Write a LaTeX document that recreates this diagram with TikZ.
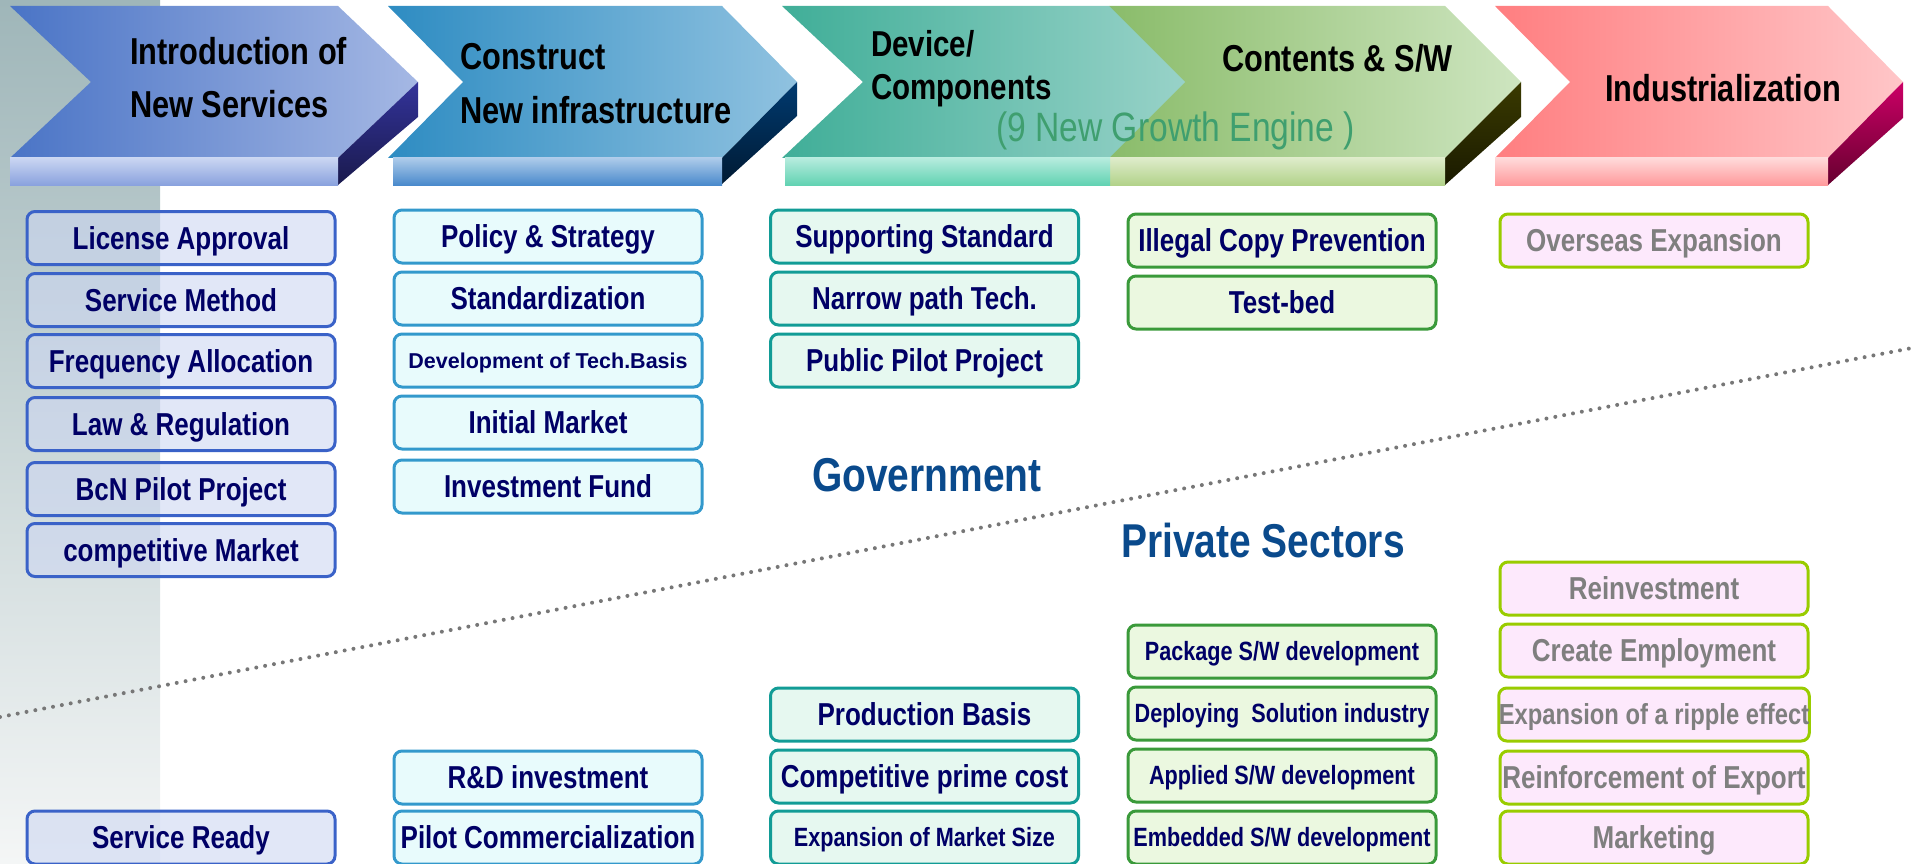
\documentclass[tikz,border=0pt]{standalone}
\usepackage{fontspec}
\setmainfont{Liberation Sans}
\newfontfamily\nb{Liberation Sans}[FakeStretch=0.82]
\newfontfamily\wb{Liberation Sans}
\newcommand\setfs[1]{\fontsize{#1}{#1}\selectfont}
\definecolor{navy}{HTML}{000066}
\definecolor{govblue}{HTML}{0A4A8C}
\definecolor{engine}{HTML}{3F9F6F}
\definecolor{dotgray}{HTML}{777777}
\definecolor{txtgray}{HTML}{7F7F7F}
\definecolor{stripTop}{HTML}{9FB6B9}
\definecolor{stripBot}{HTML}{F4F6F6}
\definecolor{ch1l}{HTML}{4A74C6}\definecolor{ch1r}{HTML}{A5B8E4}
\definecolor{ch1st}{HTML}{33339A}\definecolor{ch1sb}{HTML}{1A1A4D}
\definecolor{ch1bt}{HTML}{CAD6F2}\definecolor{ch1bb}{HTML}{8AA2DE}
\definecolor{ch2l}{HTML}{2E8CC2}\definecolor{ch2r}{HTML}{90C2E0}
\definecolor{ch2st}{HTML}{003A70}\definecolor{ch2sb}{HTML}{001A33}
\definecolor{ch2bt}{HTML}{ADCBEA}\definecolor{ch2bb}{HTML}{4A8ACC}
\definecolor{ch3l}{HTML}{40AE98}\definecolor{ch3r}{HTML}{98D2C8}
\definecolor{ch3bt}{HTML}{B6ECDE}\definecolor{ch3bb}{HTML}{62D2B2}
\definecolor{ch4l}{HTML}{8ABC6A}\definecolor{ch4r}{HTML}{CEE5C0}
\definecolor{ch4st}{HTML}{3A3A00}\definecolor{ch4sb}{HTML}{1A1A00}
\definecolor{ch4bt}{HTML}{DEECCA}\definecolor{ch4bb}{HTML}{B2D28A}
\definecolor{ch5l}{HTML}{FF7E80}\definecolor{ch5r}{HTML}{FFC6C8}
\definecolor{ch5st}{HTML}{CC0066}\definecolor{ch5sb}{HTML}{66002F}
\definecolor{ch5bt}{HTML}{FFDADA}\definecolor{ch5bb}{HTML}{FF9A9C}
\definecolor{c1d}{HTML}{3A62C8}\definecolor{c1f}{HTML}{CDD7F2}
\definecolor{c2d}{HTML}{3399CC}\definecolor{c2f}{HTML}{E8FBFC}
\definecolor{c3d}{HTML}{129C96}\definecolor{c3f}{HTML}{E6F8F0}
\definecolor{c4d}{HTML}{3A9A3A}\definecolor{c4f}{HTML}{EBF8E0}
\definecolor{c5d}{HTML}{99CC00}\definecolor{c5f}{HTML}{FDE9FC}
\tikzset{
  bx/.style={rounded corners=8pt, line width=3pt, minimum width=308pt,
    minimum height=53pt, inner sep=0pt, text=navy, font=\nb\bfseries\setfs{31.7},
    text height=22.7pt, text depth=0pt},
  cA/.style={bx, draw=c1d, fill=c1f, fill opacity=0.6, text opacity=1},
  cB/.style={bx, draw=c2d, fill=c2f},
  cC/.style={bx, draw=c3d, fill=c3f},
  cD/.style={bx, draw=c4d, fill=c4f},
  cE/.style={bx, draw=c5d, fill=c5f, text=txtgray},
  small/.style={font=\nb\bfseries\setfs{26.4}, text height=18.9pt},
  ttl/.style={anchor=base west, inner sep=0pt, text=black, font=\nb\bfseries\setfs{37.5}},
  sect/.style={anchor=base west, inner sep=0pt, text=govblue, font=\nb\bfseries\setfs{47.5}},
  dotline/.style={draw=dotgray, line width=4pt, line cap=round, dash pattern=on 0pt off 9pt}
}
\begin{document}
\begin{tikzpicture}[x=1pt,y=-1pt]
\useasboundingbox (0,0) rectangle (1912,864);
% left strip
\shade[top color=stripTop, bottom color=stripBot] (0,0) rectangle (160,864);
% chevron 1
\shade[left color=ch1l, right color=ch1r] (10,6) -- (338,6) -- (418,82) -- (338,158) -- (10,158) -- (91,82) -- cycle;
\shade[top color=ch1st, bottom color=ch1sb] (338,158) -- (418,82) -- (418,117) -- (338,185) -- cycle;
\shade[top color=ch1bt, bottom color=ch1bb] (10,158) rectangle (338,185);
% chevron 2
\shade[left color=ch2l, right color=ch2r] (388,6) -- (722,6) -- (797,82) -- (722,158) -- (388,158) -- (463,82) -- cycle;
\shade[top color=ch2st, bottom color=ch2sb] (722,158) -- (797,82) -- (797,116) -- (722,184) -- cycle;
\shade[top color=ch2bt, bottom color=ch2bb] (393,158) rectangle (722,185);
% chevron 4 (behind 3)
\shade[left color=ch4l, right color=ch4r] (1109,6) -- (1445,6) -- (1521,82) -- (1445,158) -- (1109,158) -- cycle;
\shade[top color=ch4st, bottom color=ch4sb] (1445,158) -- (1521,82) -- (1521,117) -- (1445,185) -- cycle;
\shade[top color=ch4bt, bottom color=ch4bb] (1110,158) rectangle (1445,185);
% chevron 3
\shade[left color=ch3l, right color=ch3r] (782,6) -- (1109,6) -- (1185,82) -- (1109,158) -- (782,158) -- (863,82) -- cycle;
\shade[top color=ch3bt, bottom color=ch3bb] (785,158) rectangle (1110,185);
% chevron 5
\shade[left color=ch5l, right color=ch5r] (1495,6) -- (1828,6) -- (1903,82) -- (1828,158) -- (1495,158) -- (1570,82) -- cycle;
\shade[top color=ch5st, bottom color=ch5sb] (1828,158) -- (1903,82) -- (1903,118) -- (1828,185) -- cycle;
\shade[top color=ch5bt, bottom color=ch5bb] (1495,158) rectangle (1828,185);
% chevron titles
\node[ttl] (t1a) at (130,65) {Introduction of};
\node[ttl] (t1b) at (130,118) {New Services};
\node[ttl] (t2a) at (460,70) {Construct};
\node[ttl] (t2b) at (460,124) {New infrastructure};
\node[ttl, font=\nb\bfseries\setfs{36}] (t3a) at (871,57) {Device/};
\node[ttl, font=\nb\bfseries\setfs{36}] (t3b) at (871,100) {Components};
\node[ttl] (t4) at (1222,72) {Contents \& S/W};
\node[ttl, text=engine, font=\nb\setfs{41}] (t34) at (996,142) {(9 New Growth Engine )};
\node[ttl] (t5) at (1605,102) {Industrialization};
% dotted divider
\coordinate (dl1) at (0,717);
\coordinate (dl2) at (1912,348);
\draw[dotline] (dl1) -- (dl2);
% section labels
\node[sect] (gov) at (812,491) {Government};
\node[sect] (priv) at (1121,557) {Private Sectors};
% column 1
\node[cA] (a1) at (181,238) {License Approval};
\node[cA] (a2) at (181,300) {Service Method};
\node[cA] (a3) at (181,361) {Frequency Allocation};
\node[cA] (a4) at (181,424) {Law \& Regulation};
\node[cA] (a5) at (181,489) {BcN Pilot Project};
\node[cA] (a6) at (181,550) {competitive Market};
\node[cA] (a7) at (181,837.5) {Service Ready};
% column 2
\node[cB] (b1) at (548,236.5) {Policy \& Strategy};
\node[cB] (b2) at (548,298.5) {Standardization};
\node[cB, font=\wb\bfseries\setfs{21.5}, text height=15.4pt] (b3) at (548,360.5) {Development of Tech.Basis};
\node[cB] (b4) at (548,422.5) {Initial Market};
\node[cB] (b5) at (548,486.5) {Investment Fund};
\node[cB] (b6) at (548,777.5) {R\&D investment};
\node[cB] (b7) at (548,837.5) {Pilot Commercialization};
% column 3
\node[cC] (c1) at (924.5,236.5) {Supporting Standard};
\node[cC] (c2) at (924.5,298.5) {Narrow path Tech.};
\node[cC] (c3) at (924.5,360.5) {Public Pilot Project};
\node[cC] (c4) at (924.5,714.5) {Production Basis};
\node[cC] (c5) at (924.5,776.5) {Competitive prime cost};
\node[cC, small] (c6) at (924.5,837.5) {Expansion of Market Size};
% column 4
\node[cD] (d1) at (1282,240.5) {Illegal Copy Prevention};
\node[cD] (d2) at (1282,302.5) {Test-bed};
\node[cD, small] (d3) at (1282,651.5) {Package S/W development};
\node[cD, small] (d4) at (1282,713.5) {Deploying\ \ Solution industry};
\node[cD, small] (d5) at (1282,775.5) {Applied S/W development};
\node[cD, small] (d6) at (1282,837.5) {Embedded S/W development};
% column 5
\node[cE] (e1) at (1654,240.5) {Overseas Expansion};
\node[cE] (e2) at (1654,588.5) {Reinvestment};
\node[cE] (e3) at (1654,650.5) {Create Employment};
\node[cE, font=\nb\bfseries\setfs{29}, text height=20.8pt] (e4) at (1654,714.5) {Expansion of a ripple effect};
\node[cE] (e5) at (1654,777.5) {Reinforcement of Export};
\node[cE] (e6) at (1654,837.5) {Marketing};
\end{tikzpicture}
\end{document}
